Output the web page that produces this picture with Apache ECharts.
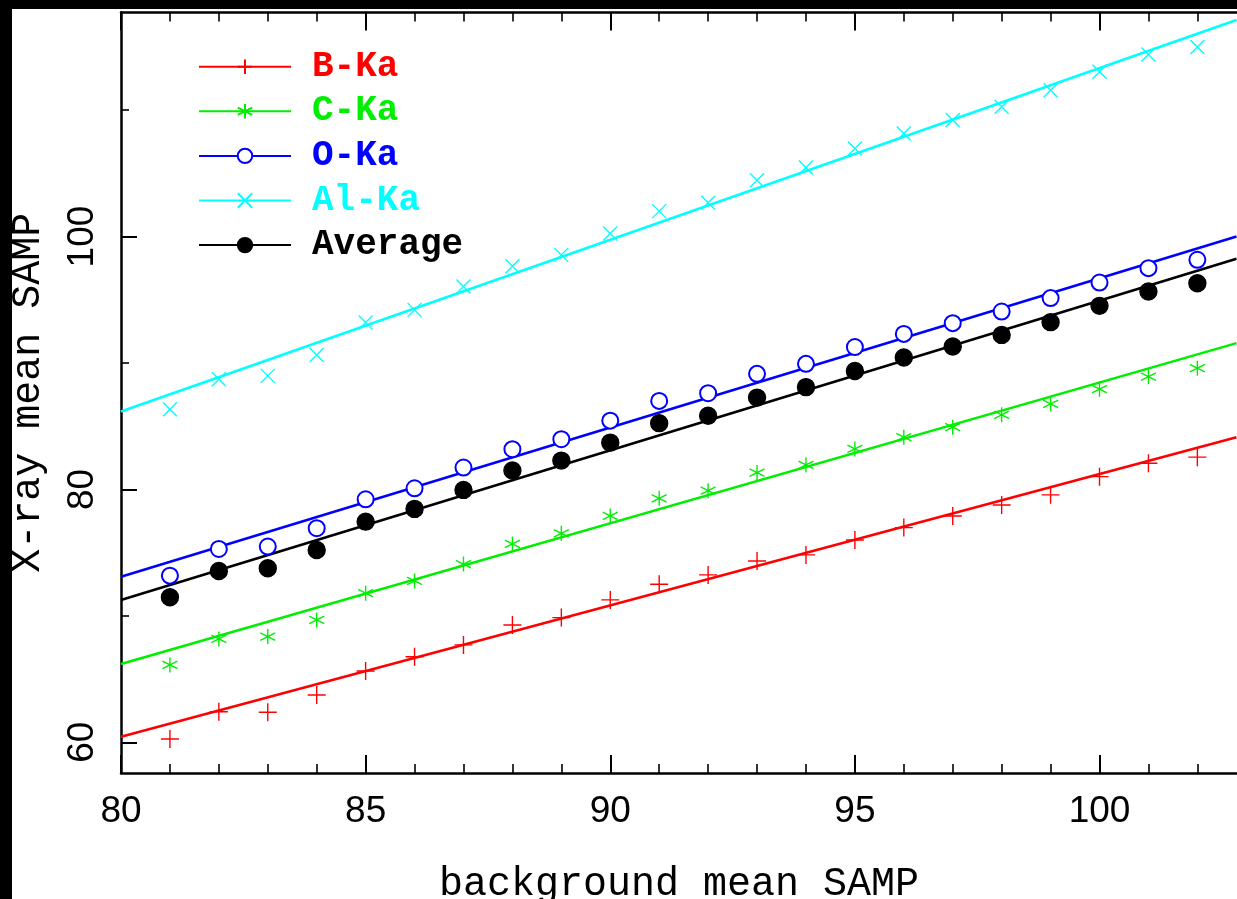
<!DOCTYPE html>
<html>
<head>
<meta charset="utf-8">
<script src="https://cdn.jsdelivr.net/npm/echarts@6/dist/echarts.min.js"></script>
<style>
html,body{margin:0;padding:0;background:#fff;}
#chart{width:1237px;height:899px;}
</style>
</head>
<body>
<div id="chart"></div>
<script>
// ---- data ----
const xValues = [81, 82, 83, 84, 85, 86, 87, 88, 89, 90, 91, 92, 93, 94, 95, 96, 97, 98, 99, 100, 101, 102];
const bKa = [60.26, 62.42, 62.37, 63.74, 65.64, 66.77, 67.70, 69.28, 69.86, 71.26, 72.50, 73.24, 74.34, 74.82, 76.00, 76.98, 77.90, 78.77, 79.57, 81.01, 82.07, 82.55];
const cKa = [66.12, 68.17, 68.36, 69.68, 71.79, 72.76, 74.10, 75.69, 76.53, 77.90, 79.30, 79.90, 81.33, 81.94, 83.20, 84.13, 84.92, 85.90, 86.76, 87.93, 88.92, 89.59];
const oKa = [73.18, 75.29, 75.48, 76.93, 79.22, 80.09, 81.73, 83.18, 83.97, 85.44, 87.00, 87.61, 89.14, 89.93, 91.26, 92.30, 93.15, 94.07, 95.13, 96.36, 97.50, 98.16];
const alKa = [86.34, 88.72, 88.98, 90.64, 93.20, 94.20, 96.05, 97.65, 98.55, 100.24, 102.01, 102.67, 104.46, 105.46, 106.96, 108.15, 109.21, 110.26, 111.58, 113.03, 114.40, 115.00];
const average = [71.47, 73.55, 73.77, 75.21, 77.45, 78.46, 79.96, 81.49, 82.28, 83.70, 85.24, 85.82, 87.26, 88.09, 89.36, 90.43, 91.30, 92.22, 93.23, 94.52, 95.65, 96.31];

// fitted lines: values at the left edge (x=80) and right edge of the picture
const fitX = [80, 102.8];
const bFit = [60.44, 84.13];
const cFit = [66.20, 91.57];
const oFit = [73.10, 100.00];
const alFit = [86.16, 117.12];
const avgFit = [71.26, 98.24];

const seriesNames = ['B-Ka', 'C-Ka', 'O-Ka', 'Al-Ka', 'Average'];

const xMajorTicks = [80, 85, 90, 95, 100];
const xMinorTicks = [81, 82, 83, 84, 86, 87, 88, 89, 91, 92, 93, 94, 96, 97, 98, 99, 101, 102];
const yMajorTicks = [60, 80, 100];
const yMinorTicks = [70, 90, 110];

const xRange = [80, 102.81];
const yRange = [57.57, 117.72];

// ---- styles ----
const colors = ['#ff0000', '#00ee00', '#0000ff', '#00ffff', '#000000'];
const symbols = [
  'path://M5,0L5,10M0,5L10,5',
  'path://M5,0L5,10M0.67,2.5L9.33,7.5M0.67,7.5L9.33,2.5',
  'emptyCircle',
  'path://M0,0L10,10M0,10L10,0',
  'circle'
];
const symbolSizes = [18, 15, 16, 14, 17];
const pointSets = [bKa, cKa, oKa, alKa, average];
const fitSets = [bFit, cFit, oFit, alFit, avgFit];

const series = [];
seriesNames.forEach((name, i) => {
  series.push({
    name: name,
    type: 'line',
    silent: true,
    data: fitX.map((x, k) => [x, fitSets[i][k]]),
    symbol: symbols[i],
    symbolSize: symbolSizes[i],
    showSymbol: false,
    lineStyle: { color: colors[i], width: 2.6 },
    itemStyle: { color: colors[i], borderColor: colors[i], borderWidth: 1.4 },
    emphasis: { disabled: true },
    z: 2
  });
});
seriesNames.forEach((name, i) => {
  series.push({
    name: name,
    type: 'scatter',
    silent: true,
    data: xValues.map((x, k) => [x, pointSets[i][k]]),
    symbol: symbols[i],
    symbolSize: symbolSizes[i],
    itemStyle: { color: colors[i], borderColor: colors[i], borderWidth: 1.4, opacity: 1 },
    emphasis: { disabled: true },
    z: 3
  });
});

const tickFont = { fontFamily: 'Liberation Sans', fontSize: 37, color: '#000' };
const axisLineStyle = { color: '#000', width: 2.5 };

const chart = echarts.init(document.getElementById('chart'), null, { renderer: 'canvas' });
chart.setOption({
  animation: false,
  backgroundColor: '#ffffff',
  grid: { left: 121, top: 12.5, right: 0, bottom: 126, containLabel: false, outerBoundsMode: 'none' },
  graphic: [
    { type: 'rect', left: 0, top: 0, z: -10, shape: { width: 12, height: 899 }, style: { fill: '#000' }, silent: true },
    { type: 'rect', left: 0, top: 0, z: -10, shape: { width: 1237, height: 9 }, style: { fill: '#000' }, silent: true }
  ],
  legend: {
    orient: 'vertical',
    left: 198,
    top: 48.7,
    padding: 0,
    itemWidth: 92,
    itemHeight: 18,
    itemGap: 8.6,
    selectedMode: false,
    textStyle: { fontFamily: 'Liberation Mono', fontSize: 36, fontWeight: 'bold', lineHeight: 36, padding: [0, 0, 0, 16] },
    data: seriesNames.map((n, i) => ({ name: n, textStyle: { color: colors[i] } }))
  },
  xAxis: [
    {
      type: 'value', position: 'bottom', min: xRange[0], max: xRange[1],
      name: 'background mean SAMP', nameLocation: 'middle', nameGap: 91,
      nameTextStyle: { fontFamily: 'Liberation Mono', fontSize: 40, color: '#000' },
      axisLine: { show: true, lineStyle: axisLineStyle },
      axisTick: { show: true, inside: true, length: 18, lineStyle: { color: '#000', width: 2 }, customValues: xMajorTicks },
      axisLabel: Object.assign({ customValues: xMajorTicks, margin: 20 }, tickFont),
      splitLine: { show: false }
    },
    {
      type: 'value', position: 'bottom', min: xRange[0], max: xRange[1],
      axisLine: { show: false },
      axisTick: { show: true, inside: true, length: 9, lineStyle: { color: '#000', width: 1.6 }, customValues: xMinorTicks },
      axisLabel: { show: false },
      splitLine: { show: false }
    },
    {
      type: 'value', position: 'top', min: xRange[0], max: xRange[1],
      axisLine: { show: true, lineStyle: axisLineStyle },
      axisTick: { show: true, inside: true, length: 18, lineStyle: { color: '#000', width: 2 }, customValues: xMajorTicks },
      axisLabel: { show: false },
      splitLine: { show: false }
    },
    {
      type: 'value', position: 'top', min: xRange[0], max: xRange[1],
      axisLine: { show: false },
      axisTick: { show: true, inside: true, length: 9, lineStyle: { color: '#000', width: 1.6 }, customValues: xMinorTicks },
      axisLabel: { show: false },
      splitLine: { show: false }
    }
  ],
  yAxis: [
    {
      type: 'value', position: 'left', min: yRange[0], max: yRange[1],
      name: 'X-ray mean SAMP', nameLocation: 'middle', nameGap: 73,
      nameTextStyle: { fontFamily: 'Liberation Mono', fontSize: 40, color: '#000' },
      axisLine: { show: true, lineStyle: axisLineStyle },
      axisTick: { show: true, inside: true, length: 16, lineStyle: { color: '#000', width: 2 }, customValues: yMajorTicks },
      axisLabel: Object.assign({ customValues: yMajorTicks, rotate: 90, margin: 20 }, tickFont),
      splitLine: { show: false }
    },
    {
      type: 'value', position: 'left', min: yRange[0], max: yRange[1],
      axisLine: { show: false },
      axisTick: { show: true, inside: true, length: 8, lineStyle: { color: '#000', width: 1.6 }, customValues: yMinorTicks },
      axisLabel: { show: false },
      splitLine: { show: false }
    }
  ],
  series: series
});
</script>
</body>
</html>
